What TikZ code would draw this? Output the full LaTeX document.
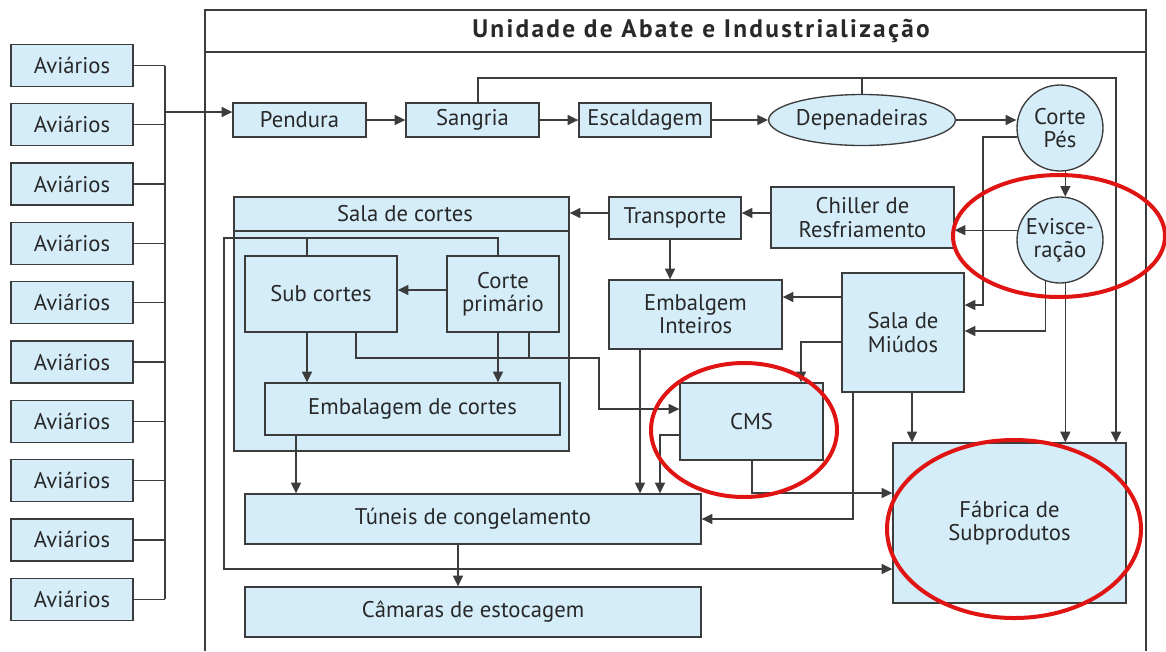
\documentclass[tikz,border=0pt]{standalone}
\usepackage{fontspec}
\setmainfont{PT Sans}
\newfontfamily\titlefont[LetterSpace=9]{PT Sans}
\usetikzlibrary{arrows.meta,shapes.geometric}
\definecolor{boxfill}{RGB}{212,237,249}
\definecolor{boxline}{RGB}{60,60,60}
\definecolor{txt}{RGB}{40,40,40}
\definecolor{markred}{RGB}{225,20,20}
\begin{document}
\begin{tikzpicture}[x=0.75pt,y=-0.75pt,
  lbl/.style={text=txt, align=center, inner sep=0pt, font=\fontsize{17}{17.5}\selectfont},
  bx/.style 2 args={lbl, draw=boxline, fill=boxfill, line width=1pt, rectangle,
     minimum width=#1*0.75pt, minimum height=#2*0.75pt},
  rnd/.style={lbl, draw=boxline, fill=boxfill, line width=1pt, circle, minimum size=86*0.75pt},
  ell/.style={lbl, draw=boxline, fill=boxfill, line width=1pt, ellipse,
     minimum width=183*0.75pt, minimum height=51*0.75pt},
  ln/.style={draw=boxline, line width=1pt},
  arr/.style={ln, -{Triangle[length=8pt,width=7.5pt]}},
  redmark/.style={draw=markred, line width=3pt}]
\useasboundingbox (0,0) rectangle (1166,651);
\fill[white] (0,0) rectangle (1166,651);

% main frame
\draw[ln, line width=1.1pt] (205,651) -- (205,10) -- (1146,10) -- (1146,651);
\draw[ln, line width=1.1pt] (205,52) -- (1146,52);
\node[text=txt, inner sep=0pt, font=\titlefont\fontsize{19}{20}\selectfont\bfseries] (title) at (701,31) {Unidade de Abate e Industrialização};

% Aviarios
\foreach \i in {0,...,9} {
  \node[bx={122}{42}] (av\i) at (72,{65.5+59.3*\i}) {Aviários};
  \draw[ln] (av\i.east) -- (165,{65.5+59.3*\i});
}
\coordinate (busT) at (165,65.5);
\coordinate (busB) at (165,599.2);
\draw[ln] (busT) -- (busB);

% row 1
\node[bx={133}{34}] (Pend) at (299.5,120) {Pendura};
\node[bx={133}{34}] (Sang) at (472.5,120) {Sangria};
\node[bx={132}{34}] (Esc) at (645,120) {Escaldagem};
\node[ell] (Dep) at (862,120) {Depenadeiras};
\node[rnd] (CP) at (1060,128) {Corte\\Pés};
\node[rnd] (Evi) at (1060,240) {Evisce-\\ração};

% row 2
\node[bx={183}{61}] (Chil) at (862.5,217.5) {Chiller de\\Resfriamento};
\node[bx={132}{42}] (Trans) at (675,218) {Transporte};
\node[bx={335}{254}] (SalaC) at (401.5,324) {};
\draw[ln] (SalaC.west |- 0,231) -- (SalaC.east |- 0,231);
\node[lbl] (SalaCt) at (405,214) {Sala de cortes};
\node[bx={152}{76}] (SubC) at (321,294) {Sub cortes};
\node[bx={112}{76}] (CorP) at (503,294) {Corte\\primário};
\node[bx={295}{52}] (EmbC) at (412.5,409) {Embalagem de cortes};
\node[bx={173}{69}] (EmbI) at (695.5,314.5) {Embalgem\\Inteiros};
\node[bx={122}{119}] (Miu) at (903,332.5) {Sala de\\Miúdos};
\node[bx={143}{77}] (CMS) at (751.5,421.5) {CMS};
\node[bx={456}{50}] (Tun) at (473,519) {Túneis de congelamento};
\node[bx={456}{50}] (Cam) at (473,612) {Câmaras de estocagem};
\node[bx={233}{160}] (Fab) at (1009.5,523) {Fábrica de\\Subprodutos};

% connectors row 1
\draw[arr] (165,112) -- (Pend.west |- 0,112);
\draw[arr] (Pend.east) -- (Sang.west);
\draw[arr] (Sang.east) -- (Esc.west);
\draw[arr] (Esc.east) -- (Dep.west);
\draw[arr] (Dep.east) -- (Dep.east -| CP.west);
\draw[arr] (478,0 |- Sang.north) |- (1116,78) -- (1116,0 |- Fab.north);
\draw[ln] (Dep.north) -- (Dep.north |- 0,78);
\draw[arr] (CP.277) -- (Evi.83);
\draw[arr] (CP.192) -| (983,305) -- (Miu.east |- 0,305);
\draw[arr] (Evi.167) -- (Evi.167 -| Chil.east);
\draw[arr] (Evi.251) |- (Miu.east |- 0,331);
\draw[arr] (Evi.277) -- (Evi.277 |- Fab.north);

% row 2 connectors
\draw[arr] (Chil.west |- 0,213) -- (Trans.east |- 0,213);
\draw[arr] (Trans.west |- 0,213) -- (SalaC.east |- 0,213);
\draw[arr] (670,0 |- Trans.south) -- (670,0 |- EmbI.north);
\draw[arr] (Miu.west |- 0,297) -- (EmbI.east |- 0,297);
\draw[arr] (912,0 |- Miu.south) -- (912,0 |- Fab.north);
\draw[arr] (Miu.west |- 0,342) -| (801,0 |- CMS.north);
\draw[arr] (853,0 |- Miu.south) |- (Tun.east);
\draw[arr] (752,0 |- CMS.south) |- (Fab.west |- 0,493);
\draw[arr] (CMS.west |- 0,435) -| (660,0 |- Tun.north);
\draw[arr] (640,0 |- EmbI.south) -- (640,0 |- Tun.north);

% sala de cortes internals
\draw[arr] (CorP.west |- 0,290) -- (SubC.east |- 0,290);
\draw[arr] (307,0 |- SubC.south) -- (307,0 |- EmbC.north);
\draw[arr] (498,0 |- CorP.south) -- (498,0 |- EmbC.north);
\draw[ln] (307,0 |- SubC.north) -- (307,238);
\draw[arr] (498,0 |- CorP.north) |- (224,238) |- (Fab.west |- 0,569);
\draw[arr] (356,0 |- SubC.south) |- (599,358) |- (CMS.west |- 0,409);
\draw[ln] (529,0 |- CorP.south) -- (529,358);
\draw[arr] (296,0 |- EmbC.south) -- (296,0 |- Tun.north);
\draw[arr] (458,0 |- Tun.south) -- (458,0 |- Cam.north);

% red annotations
\draw[redmark] (1059,236) ellipse [x radius=106, y radius=61];
\draw[redmark] (744,430) ellipse [x radius=93, y radius=67];
\draw[redmark] (1014,529) ellipse [x radius=127, y radius=89];
\end{tikzpicture}
\end{document}
